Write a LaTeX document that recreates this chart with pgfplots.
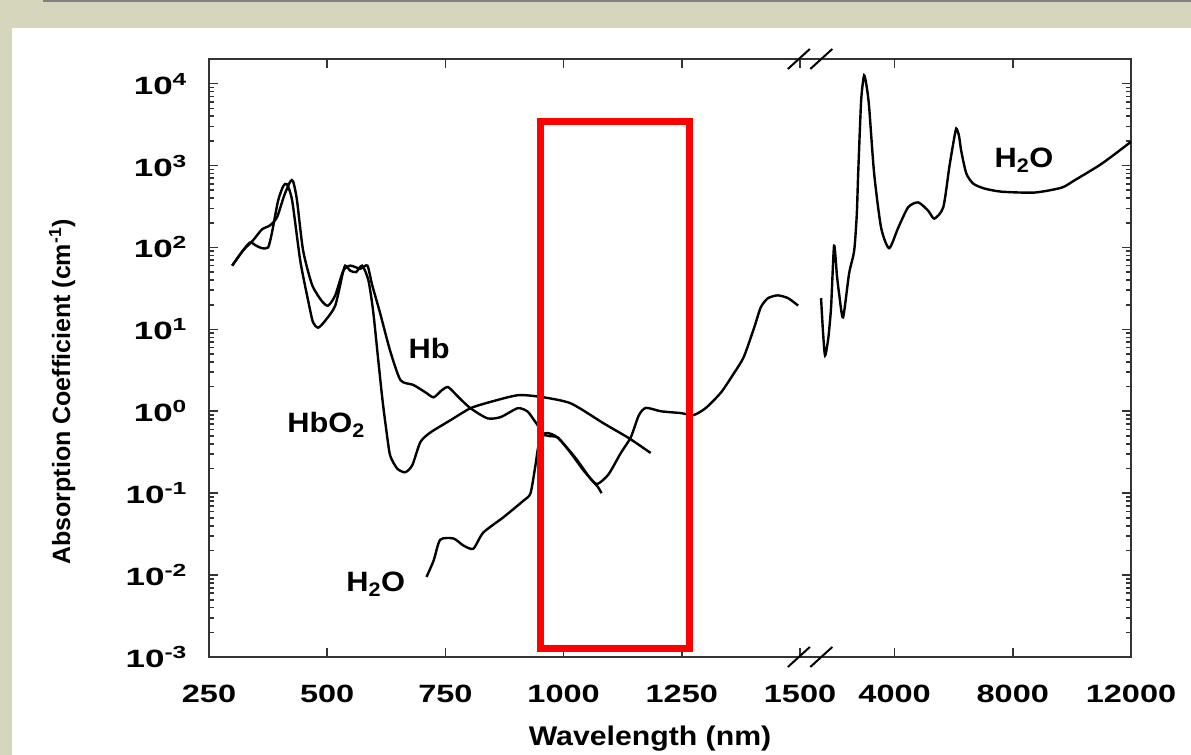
\documentclass[border=0pt]{standalone}
\usepackage{fontspec}
\setmainfont{Liberation Sans}
\usepackage{pgfplots}
\usepackage{pgfplotstable}
\pgfplotsset{compat=1.18}
\definecolor{beige}{RGB}{213,214,188}

\pgfplotstableread{
w a
299 60
322 92
343 122
362 166
379 186
394 235
409 430
422 640
428 640
436 380
449 92
468 35
489 22
502 19.5
517 26
534 52
549 60
570 55
585 60
595 35
612 15.7
633 5.5
655 2.4
682 2.1
708 1.7
725 1.48
742 1.8
756 1.97
778 1.48
803 1.09
839 0.82
867 0.85
903 1.09
924 0.99
941 0.73
962 0.51
987 0.48
1015 0.31
1042 0.19
1072 0.12
1080 0.10
}\hb

\pgfplotstableread{
w a
299 60
322 92
337 115
350 105
362 98
375 100
383 150
396 370
407 560
415 590
426 370
443 69
460 22
470 12.2
481 10.5
496 12.8
517 19.5
532 46
538 60
549 52
561 50
574 60
587 40
597 17
608 4.2
617 1.36
625 0.59
633 0.29
648 0.20
665 0.18
680 0.22
697 0.42
718 0.55
761 0.78
803 1.09
845 1.3
903 1.57
951 1.5
1015 1.25
1085 0.71
1138 0.47
1184 0.31
}\hbo

\pgfplotstableread{
w a
710 0.0095
725 0.015
739 0.027
767 0.028
788 0.023
809 0.021
830 0.033
873 0.051
915 0.081
930 0.1
941 0.23
947 0.38
962 0.54
987 0.48
1025 0.27
1057 0.15
1072 0.13
1095 0.17
1121 0.31
1142 0.48
1159 0.89
1174 1.1
1206 1.0
1248 0.95
1275 0.9
1301 1.1
1333 1.7
1360 2.9
1381 4.6
1403 10.5
1417 18.6
1432 24
1453 26
1475 24
1496 19.5
}\wa

\pgfplotstableread{
w a
1512 24
1580 9
1648 4.8
1760 8
1852 19
1952 105
2050 45
2124 27
2256 14
2460 48
2632 91
2720 250
2768 800
2868 6200
2968 12600
3060 9000
3140 5100
3308 800
3544 174
3816 98
4122 174
4460 310
4800 355
5140 280
5344 225
5648 310
5852 960
6000 2000
6088 2830
6180 2300
6256 1500
6427 800
6665 600
7037 525
7613 480
8732 468
9648 537
10088 660
11004 1050
12000 1950
}\wb

\begin{document}
\begin{tikzpicture}
\useasboundingbox (0bp,0bp) rectangle (1191bp,755bp);
\fill[beige] (0bp,0bp) rectangle (1191bp,755bp);
\fill[white] (12bp,0bp) rectangle (1191bp,727bp);
\draw[gray, line width=2bp] (43bp,754bp) -- (1191bp,754bp);
\begin{axis}[
  at={(209bp,98bp)}, anchor=south west, scale only axis,
  width=922bp, height=598bp,
  xmin=0, xmax=7.8,
  ymode=log, ymin=1e-3, ymax=2e4,
  axis line style={line width=2.5bp, black!80},
  tick style={line width=1.6bp, black!80},
  major tick length=9bp, minor tick length=5bp,
  xtick={0,1,2,3,4,5,5.8,6.8,7.8},
  xticklabels={250,500,750,1000,1250,1500,4000,8000,12000},
  ytick={1e-3,1e-2,1e-1,1,10,100,1000,10000},
  yticklabels={10\textsuperscript{-3},10\textsuperscript{-2},10\textsuperscript{-1},10\textsuperscript{0},10\textsuperscript{1},10\textsuperscript{2},10\textsuperscript{3},10\textsuperscript{4}},
  tick pos=both,
  tick label style={font=\fontsize{25bp}{30bp}\selectfont\bfseries},
  xticklabel style={yshift=-25bp, xscale=1.3},
  yticklabel style={xshift=-17bp, xscale=1.4},
  clip=false,
]
\addplot[black, mark=none, line width=2.4bp, smooth, tension=0.4] table[x expr=(\thisrow{w}-250)/250, y=a] {\hb};
\addplot[black, mark=none, line width=2.4bp, smooth, tension=0.4] table[x expr=(\thisrow{w}-250)/250, y=a] {\hbo};
\addplot[black, mark=none, line width=2.4bp, smooth, tension=0.4] table[x expr=(\thisrow{w}-250)/250, y=a] {\wa};
\addplot[black, mark=none, line width=2.4bp, smooth, tension=0.4] table[x expr=5.8+(\thisrow{w}-4000)/4000, y=a] {\wb};

\node[anchor=base west, inner sep=0pt, xscale=1.1, font=\fontsize{28bp}{33bp}\selectfont\bfseries] at (axis cs:1.686,4.43) {Hb};
\node[anchor=base west, inner sep=0pt, xscale=1.1, font=\fontsize{28bp}{33bp}\selectfont\bfseries] at (axis cs:0.661,0.555) {HbO\textsubscript{2}};
\node[anchor=base west, inner sep=0pt, xscale=1.1, font=\fontsize{28bp}{33bp}\selectfont\bfseries] at (axis cs:1.161,0.00638) {H\textsubscript{2}O};
\node[anchor=base west, inner sep=0pt, xscale=1.1, font=\fontsize{28bp}{33bp}\selectfont\bfseries] at (axis cs:6.644,946) {H\textsubscript{2}O};

\coordinate (b1) at (axis cs:4.99,0.001);
\coordinate (b2) at (axis cs:5.18,0.001);
\coordinate (t1) at (axis cs:4.99,20000);
\coordinate (t2) at (axis cs:5.18,20000);
\end{axis}
\draw[line width=2bp, black] ([xshift=-11bp,yshift=-10bp]b1) -- ([xshift=11bp,yshift=10bp]b1);
\draw[line width=2bp, black] ([xshift=-11bp,yshift=-10bp]b2) -- ([xshift=11bp,yshift=10bp]b2);
\draw[line width=2bp, black] ([xshift=-11bp,yshift=-10bp]t1) -- ([xshift=11bp,yshift=10bp]t1);
\draw[line width=2bp, black] ([xshift=-11bp,yshift=-10bp]t2) -- ([xshift=11bp,yshift=10bp]t2);
\node[anchor=base, xscale=1.12, font=\fontsize{27bp}{32bp}\selectfont\bfseries] at (650bp,10bp) {Wavelength (nm)};
\node[anchor=base, rotate=90, font=\fontsize{25bp}{30bp}\selectfont\bfseries] at (70bp,363bp) {Absorption Coefficient (cm\textsuperscript{-1})};
\draw[red, line width=7bp] (540.5bp,106.5bp) rectangle (689.5bp,633.5bp);
\end{tikzpicture}
\end{document}
